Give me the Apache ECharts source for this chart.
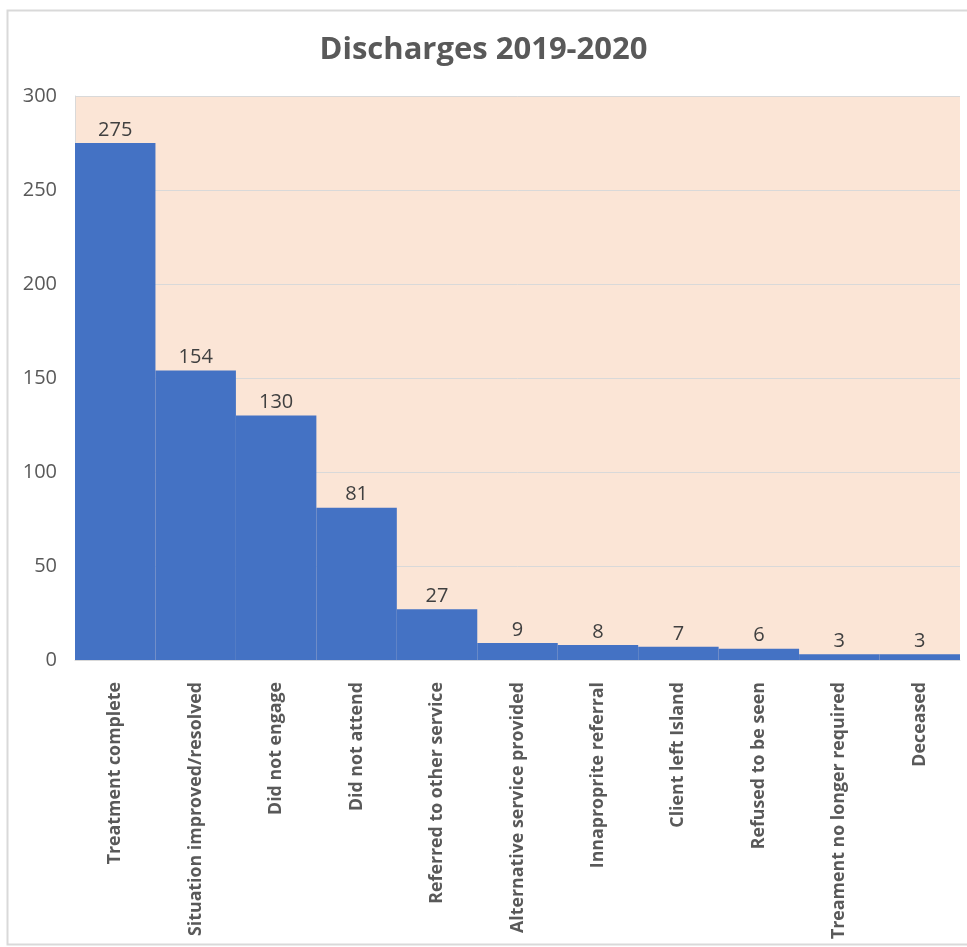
<!DOCTYPE html>
<html>
<head>
<meta charset="utf-8">
<script src="https://cdn.jsdelivr.net/npm/echarts@6/dist/echarts.min.js"></script>
<style>
  html, body { margin: 0; padding: 0; background: #ffffff; }
  #chart { width: 967px; height: 947px; }
</style>
</head>
<body>
<div id="chart"></div>
<script>
// Discharge reasons and counts for 2019-2020
const categories = [
  'Treatment complete',
  'Situation improved/resolved',
  'Did not engage',
  'Did not attend',
  'Referred to other service',
  'Alternative service provided',
  'Innaproprite referral',
  'Client left Island',
  'Refused to be seen',
  'Treament no longer required',
  'Deceased'
];
const discharges = [275, 154, 130, 81, 27, 9, 8, 7, 6, 3, 3];
const yTicks = { min: 0, max: 300, interval: 50 };

const chart = echarts.init(document.getElementById('chart'), null, { renderer: 'canvas' });

chart.setOption({
  animation: false,
  backgroundColor: '#ffffff',
  title: {
    text: 'Discharges 2019-2020',
    left: 'center',
    top: 30,
    textStyle: {
      fontFamily: 'Open Sans',
      fontWeight: 'bold',
      fontSize: 31,
      color: '#595959'
    }
  },
  graphic: [{
    type: 'rect',
    shape: { x: 7.5, y: 10.5, width: 965, height: 934 },
    style: { fill: 'none', stroke: '#d9d9d9', lineWidth: 2 },
    silent: true
  }],
  grid: {
    left: 75,
    right: 7,
    top: 96,
    bottom: 287,
    show: true,
    backgroundColor: '#fbe5d6',
    borderWidth: 0
  },
  xAxis: {
    type: 'category',
    data: categories,
    axisLine: { show: true, lineStyle: { color: '#d9d9d9', width: 1 } },
    axisTick: { show: false },
    axisLabel: {
      rotate: 90,
      margin: 22,
      interval: 0,
      fontFamily: 'Open Sans',
      fontWeight: 'bold',
      fontSize: 17.8,
      color: '#595959'
    }
  },
  yAxis: {
    type: 'value',
    min: yTicks.min,
    max: yTicks.max,
    interval: yTicks.interval,
    axisLine: { show: true, lineStyle: { color: '#d9d9d9' } },
    axisTick: { show: false },
    splitLine: { lineStyle: { color: '#d9d9d9', width: 1 } },
    axisLabel: {
      margin: 18,
      fontFamily: 'Open Sans',
      fontSize: 20,
      color: '#595959'
    }
  },
  series: [{
    type: 'bar',
    data: discharges,
    barCategoryGap: '0%',
    itemStyle: { color: '#4472c4' },
    label: {
      show: true,
      position: 'top',
      distance: 3,
      fontFamily: 'Open Sans',
      fontSize: 20,
      color: '#404040'
    }
  }]
});
</script>
</body>
</html>
